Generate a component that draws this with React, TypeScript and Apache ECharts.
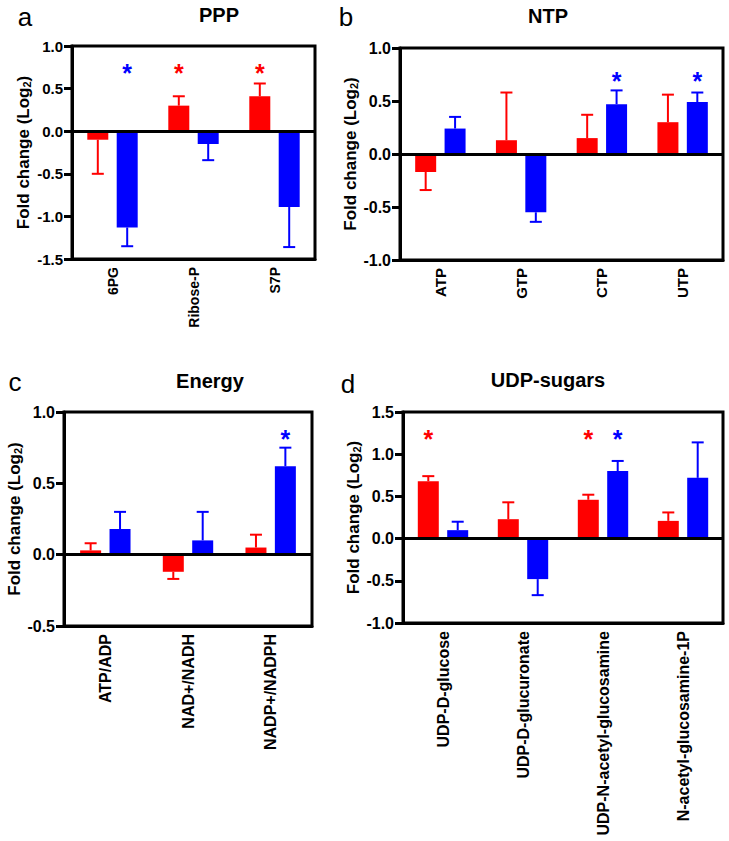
import React, { useEffect, useRef } from "react";
import * as echarts from "echarts";

// ---- Panel a: PPP ----
const pppCats = ["6PG", "Ribose-P", "S7P"];
const pppRed = [-0.1, 0.3, 0.41];
const pppRedErr = [-0.5, 0.41, 0.56];
const pppBlue = [-1.13, -0.15, -0.89];
const pppBlueErr = [-1.35, -0.34, -1.36];
const pppStarsRed = [null, 0.75, 0.75];
const pppStarsBlue = [0.75, null, null];

// ---- Panel b: NTP ----
const ntpCats = ["ATP", "GTP", "CTP", "UTP"];
const ntpRed = [-0.17, 0.13, 0.15, 0.3];
const ntpRedErr = [-0.34, 0.58, 0.37, 0.56];
const ntpBlue = [0.24, -0.55, 0.47, 0.49];
const ntpBlueErr = [0.35, -0.64, 0.6, 0.58];
const ntpStarsRed = [null, null, null, null];
const ntpStarsBlue = [null, null, 0.75, 0.75];

// ---- Panel c: Energy ----
const enCats = ["ATP/ADP", "NAD+/NADH", "NADP+/NADPH"];
const enRed = [0.03, -0.12, 0.05];
const enRedErr = [0.08, -0.17, 0.14];
const enBlue = [0.18, 0.1, 0.62];
const enBlueErr = [0.3, 0.3, 0.75];
const enStarsRed = [null, null, null];
const enStarsBlue = [null, null, 0.85];

// ---- Panel d: UDP-sugars ----
const udpCats = ["UDP-D-glucose", "UDP-D-glucuronate", "UDP-N-acetyl-glucosamine", "N-acetyl-glucosamine-1P"];
const udpRed = [0.68, 0.23, 0.46, 0.21];
const udpRedErr = [0.74, 0.43, 0.52, 0.31];
const udpBlue = [0.1, -0.48, 0.8, 0.72];
const udpBlueErr = [0.2, -0.67, 0.92, 1.14];
const udpStarsRed = [1.25, null, 1.25, null];
const udpStarsBlue = [null, null, 1.25, null];

// y-axis ranges
const pppY = { min: -1.5, max: 1.0 };
const ntpY = { min: -1.0, max: 1.0 };
const enY = { min: -0.5, max: 1.0 };
const udpY = { min: -1.0, max: 1.5 };

const RED = "#ff0000";
const BLUE = "#0000ff";
const FONT = "Liberation Sans, Arial, Helvetica, sans-serif";
const BAR_W = 21;
const GAP = 0.4;
const OFF = (BAR_W * (1 + GAP)) / 2;

type Panel = {
  cats: string[];
  red: number[];
  redErr: number[];
  blue: number[];
  blueErr: number[];
  starsRed: (number | null)[];
  starsBlue: (number | null)[];
  y: { min: number; max: number };
  grid: { left: number; top: number; width: number; height: number };
  nameGap: number;
  catFont: number;
  tickFont: number;
};

const panels: Panel[] = [
  { cats: pppCats, red: pppRed, redErr: pppRedErr, blue: pppBlue, blueErr: pppBlueErr, starsRed: pppStarsRed, starsBlue: pppStarsBlue, y: pppY, grid: { left: 72, top: 46, width: 243, height: 213 }, nameGap: 40, catFont: 14, tickFont: 15 },
  { cats: ntpCats, red: ntpRed, redErr: ntpRedErr, blue: ntpBlue, blueErr: ntpBlueErr, starsRed: ntpStarsRed, starsBlue: ntpStarsBlue, y: ntpY, grid: { left: 400, top: 48, width: 323, height: 212 }, nameGap: 41, catFont: 15, tickFont: 16 },
  { cats: enCats, red: enRed, redErr: enRedErr, blue: enBlue, blueErr: enBlueErr, starsRed: enStarsRed, starsBlue: enStarsBlue, y: enY, grid: { left: 64, top: 412, width: 248, height: 214 }, nameGap: 39, catFont: 16, tickFont: 16 },
  { cats: udpCats, red: udpRed, redErr: udpRedErr, blue: udpBlue, blueErr: udpBlueErr, starsRed: udpStarsRed, starsBlue: udpStarsBlue, y: udpY, grid: { left: 403, top: 412, width: 320, height: 211 }, nameGap: 41, catFont: 16, tickFont: 16 },
];

function errSeries(i: number, vals: number[], errs: number[], color: string, side: number) {
  return {
    type: "custom",
    xAxisIndex: i,
    yAxisIndex: i,
    silent: true,
    z: 3,
    data: vals.map((v, k) => [k, v, errs[k]]),
    renderItem: (params: any, api: any) => {
      const c = api.value(0);
      const v = api.value(1);
      const e = api.value(2);
      const p0 = api.coord([c, v]);
      const p1 = api.coord([c, e]);
      const x = p0[0] + side * OFF;
      return {
        type: "group",
        children: [
          { type: "line", shape: { x1: x, y1: p0[1], x2: x, y2: p1[1] }, style: { stroke: color, lineWidth: 2 } },
          { type: "line", shape: { x1: x - 6, y1: p1[1], x2: x + 6, y2: p1[1] }, style: { stroke: color, lineWidth: 2 } },
        ],
      };
    },
  };
}

function starSeries(i: number, stars: (number | null)[], color: string, side: number) {
  const data: number[][] = [];
  stars.forEach((s, k) => {
    if (s !== null) data.push([k, s]);
  });
  return {
    type: "custom",
    xAxisIndex: i,
    yAxisIndex: i,
    silent: true,
    z: 4,
    data,
    renderItem: (params: any, api: any) => {
      const p = api.coord([api.value(0), api.value(1)]);
      return {
        type: "text",
        x: p[0] + side * OFF,
        y: p[1] + 6,
        style: {
          text: "*",
          fill: color,
          font: `bold 25px ${FONT}`,
          textAlign: "center",
          textVerticalAlign: "middle",
          align: "center",
          verticalAlign: "middle",
        },
      };
    },
  };
}

export default function App() {
  const ref = useRef<HTMLDivElement>(null);
  useEffect(() => {
    if (!ref.current) return;
    const chart = echarts.init(ref.current, undefined, { renderer: "svg" });

    const grids: any[] = [];
    const xAxes: any[] = [];
    const yAxes: any[] = [];
    const series: any[] = [];

    panels.forEach((p, i) => {
      grids.push({
        ...p.grid,
        show: true,
        borderColor: "#000",
        borderWidth: 3,
        backgroundColor: "transparent",
        containLabel: false,
      });
      xAxes.push({
        type: "category",
        gridIndex: i,
        data: p.cats,
        axisLine: { show: true, onZero: false, lineStyle: { color: "#000", width: 3 } },
        axisTick: { show: false },
        splitLine: { show: false },
        axisLabel: {
          rotate: 90,
          margin: 8,
          color: "#000",
          fontFamily: FONT,
          fontWeight: "bold",
          fontSize: p.catFont,
          interval: 0,
        },
      });
      yAxes.push({
        type: "value",
        gridIndex: i,
        min: p.y.min,
        max: p.y.max,
        interval: 0.5,
        name: "{a|Fold change (Log}{s|2}{a|)}",
        nameLocation: "middle",
        nameGap: p.nameGap,
        nameRotate: 90,
        nameTextStyle: {
          rich: {
            a: { fontFamily: FONT, fontWeight: "bold", fontSize: 17, color: "#000" },
            s: { fontFamily: FONT, fontWeight: "bold", fontSize: 11, color: "#000", padding: [7, 0, 0, 0] },
          },
        },
        axisLine: { show: true, lineStyle: { color: "#000", width: 3 } },
        axisTick: { show: true, length: 8, lineStyle: { color: "#000", width: 3 } },
        splitLine: { show: false },
        axisLabel: {
          margin: 9,
          color: "#000",
          fontFamily: FONT,
          fontWeight: "bold",
          fontSize: p.tickFont,
          formatter: (v: number) => v.toFixed(1),
        },
      });
      series.push({
        type: "bar",
        xAxisIndex: i,
        yAxisIndex: i,
        data: p.red,
        barWidth: BAR_W,
        barGap: `${GAP * 100}%`,
        itemStyle: { color: RED },
        silent: true,
        z: 2,
        markLine: {
          silent: true,
          symbol: ["none", "none"],
          label: { show: false },
          lineStyle: { color: "#000", width: 3, type: "solid" },
          data: [{ yAxis: 0 }],
          z: 5,
        },
      });
      series.push({
        type: "bar",
        xAxisIndex: i,
        yAxisIndex: i,
        data: p.blue,
        barWidth: BAR_W,
        barGap: `${GAP * 100}%`,
        itemStyle: { color: BLUE },
        silent: true,
        z: 2,
      });
      series.push(errSeries(i, p.red, p.redErr, RED, -1));
      series.push(errSeries(i, p.blue, p.blueErr, BLUE, 1));
      series.push(starSeries(i, p.starsRed, RED, -1));
      series.push(starSeries(i, p.starsBlue, BLUE, 1));
    });

    const txt = (x: number, y: number, text: string, font: string) => ({
      type: "text",
      x,
      y,
      style: {
        text,
        font,
        fill: "#000",
        textAlign: "center",
        textVerticalAlign: "middle",
        align: "center",
        verticalAlign: "middle",
      },
    });

    chart.setOption({
      animation: false,
      backgroundColor: "#fff",
      grid: grids,
      xAxis: xAxes,
      yAxis: yAxes,
      series,
      graphic: [
        txt(25, 17, "a", `26px ${FONT}`),
        txt(346, 17, "b", `26px ${FONT}`),
        txt(15, 382, "c", `26px ${FONT}`),
        txt(348, 384, "d", `26px ${FONT}`),
        txt(219, 15, "PPP", `bold 20px ${FONT}`),
        txt(548, 16, "NTP", `bold 20px ${FONT}`),
        txt(210, 381, "Energy", `bold 20px ${FONT}`),
        txt(548, 380, "UDP-sugars", `bold 20px ${FONT}`),
      ],
    });
    return () => chart.dispose();
  }, []);
  return <div ref={ref} style={{ position: "absolute", left: 0, top: 0, width: 729, height: 841 }} />;
}
